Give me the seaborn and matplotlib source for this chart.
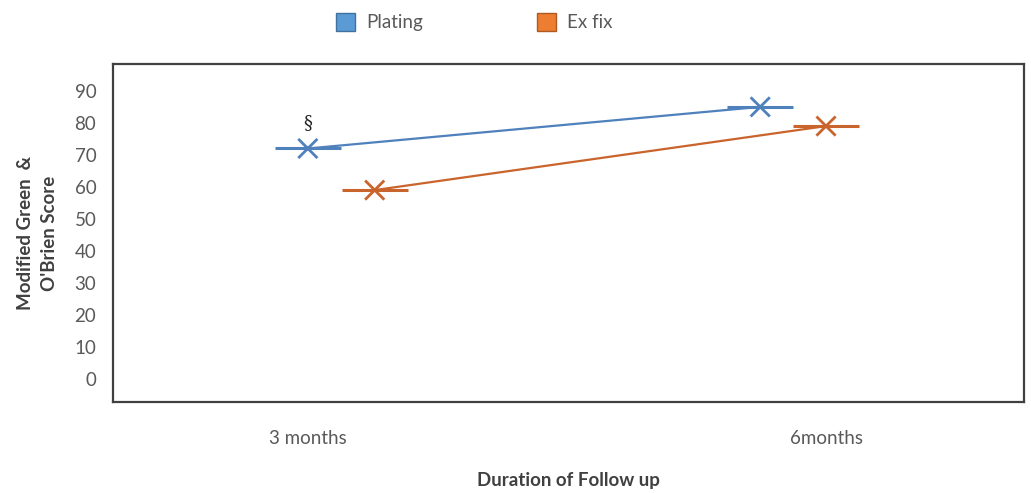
import matplotlib
matplotlib.use("Agg")
import matplotlib.pyplot as plt
import seaborn as sns
import pandas as pd
from matplotlib.patches import Patch

# ---- data ----
categories = ["3 months", "6months"]
series_names = ["Plating", "Ex fix"]
plating_scores = [72, 85]
exfix_scores = [59, 79]
# horizontal placement of each series' points relative to the category slots
plating_pos = [0.0, 0.873]
exfix_pos = [0.129, 1.0]
y_ticks = [0, 10, 20, 30, 40, 50, 60, 70, 80, 90]

df = pd.DataFrame({
    "x": plating_pos + exfix_pos,
    "score": plating_scores + exfix_scores,
    "group": [series_names[0]] * 2 + [series_names[1]] * 2,
})

sns.set_theme(style="white")
plt.rcParams["font.family"] = ["Lato", "DejaVu Sans"]

line_colors = {"Plating": "#4F81BD", "Ex fix": "#C9642C"}
legend_colors = {"Plating": "#5B9BD5", "Ex fix": "#ED7D31"}
legend_edges = {"Plating": "#41719C", "Ex fix": "#AE5A21"}

fig = plt.figure(figsize=(10.31, 4.93), dpi=100)
ax = fig.add_axes([0.1096, 0.1846, 0.8836, 0.6856])

sns.lineplot(data=df, x="x", y="score", hue="group", palette=line_colors,
             linewidth=1.6, legend=False, ax=ax, sort=False)
sns.scatterplot(data=df, x="x", y="score", hue="group", palette=line_colors,
                marker="x", s=190, linewidth=2.0, legend=False, ax=ax, zorder=5)
# horizontal bars through each marker
for name, pos, vals in [("Plating", plating_pos, plating_scores), ("Ex fix", exfix_pos, exfix_scores)]:
    ax.errorbar(pos, vals, xerr=0.064, fmt="none", ecolor=line_colors[name],
                elinewidth=2.2, capsize=0)

ax.text(plating_pos[0], plating_scores[0] + 8, "§", ha="center", va="center",
        fontsize=13, color="#222222", family=["DejaVu Serif"])

ax.set_xlim(-0.376, 1.382)
ax.set_ylim(-7.2, 98.4)
ax.set_xticks([0, 1])
ax.set_xticklabels(categories)
ax.set_yticks(y_ticks)
ax.tick_params(axis="both", length=0, labelsize=13.5, labelcolor="#595959")
ax.tick_params(axis="x", pad=20)
ax.tick_params(axis="y", pad=12)

for s in ax.spines.values():
    s.set_visible(True)
    s.set_color("#404040")
    s.set_linewidth(1.6)

ax.set_xlabel("Duration of Follow up", fontsize=13.5, fontweight="bold",
              color="#404040", labelpad=18)
ax.set_ylabel("Modified Green  &\nO'Brien Score", fontsize=13.5, fontweight="bold",
              color="#404040", labelpad=12, linespacing=1.5)

handles = [Patch(facecolor=legend_colors[n], edgecolor=legend_edges[n], label=n) for n in series_names]
fig.legend(handles=handles, loc="center", bbox_to_anchor=(0.46, 0.955), ncol=2,
           frameon=False, fontsize=13.5, labelcolor="#595959", columnspacing=6.1,
           handlelength=1.0, handleheight=1.1, handletextpad=0.6)

fig.savefig("out.png", dpi=100)
